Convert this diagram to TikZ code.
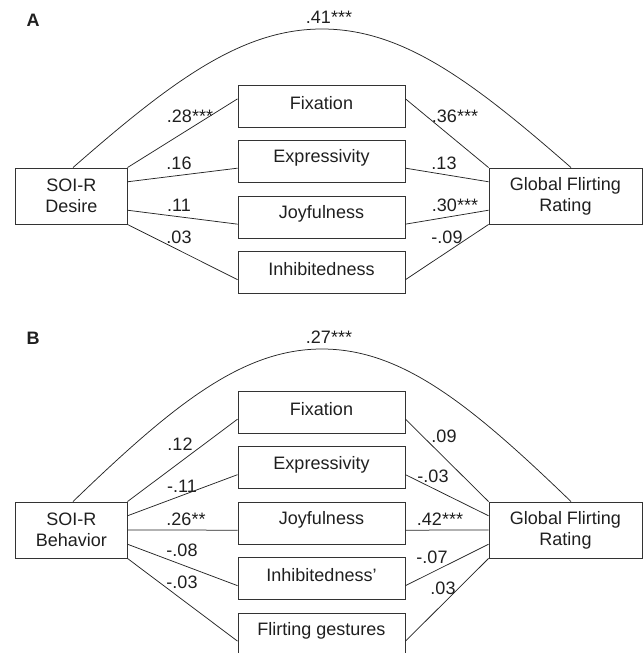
\documentclass[tikz,border=0pt]{standalone}
\usepackage{fontspec}
\setmainfont{Liberation Sans}
\usetikzlibrary{calc}
\newcommand\mainfs{\fontsize{18}{21}\selectfont}
\newcommand\upt[1]{\raisebox{3pt}[\height][\depth]{#1}}
\tikzset{
  boxline/.style={draw=black!80, line width=0.9pt, text=black!88},
  medbox/.style={boxline, minimum width=167pt, minimum height=42pt, inner sep=0pt, font=\mainfs},
  endbox/.style={boxline, minimum height=56pt, inner sep=0pt, align=center, font=\mainfs},
  conn/.style={draw=black!85, line width=0.75pt},
  coef/.style={font=\mainfs, inner sep=0pt, text=black!88},
  panel/.style={font=\bfseries\fontsize{18}{21}\selectfont, inner sep=0pt, text=black!88}
}
\begin{document}
\begin{tikzpicture}[x=1pt,y=-1pt]
\useasboundingbox (0,0) rectangle (643,653);

% ---------------- Panel A ----------------
\node[panel] (labA) at (33,20) {A};
\node[endbox, minimum width=111.5pt] (soiA) at (71.3,196) {SOI-R\\Desire};
\node[endbox, minimum width=153pt] (gfrA) at (565.5,196) {Global Flirting\\Rating};
\node[medbox] (fixA) at (321.5,106) {\upt{Fixation}};
\node[medbox] (expA) at (321.5,161) {\upt{Expressivity}};
\node[medbox] (joyA) at (321.5,217) {\upt{Joyfulness}};
\node[medbox] (inhA) at (321.5,272.5) {\upt{Inhibitedness}};

\coordinate (arcAl) at ($(soiA.north)+(1.7,0)$);
\coordinate (arcAr) at ($(gfrA.north)+(5.5,0)$);
\coordinate (arcAtop) at (322,29);
\draw[conn] (arcAl) .. controls (173,80) and (242,29) .. (arcAtop)
                    .. controls (402,29) and (471,80) .. (arcAr);

\draw[conn] (soiA.north east) -- ($(fixA.north west)!0.333!(fixA.south west)$);
\draw[conn] ($(soiA.north east)!0.25!(soiA.south east)$) -- ($(expA.north west)!0.667!(expA.south west)$);
\draw[conn] ($(soiA.north east)!0.75!(soiA.south east)$) -- ($(joyA.north west)!0.667!(joyA.south west)$);
\draw[conn] (soiA.south east) -- ($(inhA.north west)!0.667!(inhA.south west)$);

\draw[conn] ($(fixA.north east)!0.333!(fixA.south east)$) -- (gfrA.north west);
\draw[conn] ($(expA.north east)!0.667!(expA.south east)$) -- ($(gfrA.north west)!0.25!(gfrA.south west)$);
\draw[conn] ($(joyA.north east)!0.667!(joyA.south east)$) -- ($(gfrA.north west)!0.75!(gfrA.south west)$);
\draw[conn] ($(inhA.north east)!0.667!(inhA.south east)$) -- (gfrA.south west);

\node[coef] (cA0) at (329,17.5) {.41***};
\node[coef] (cA1) at (190,116) {.28***};
\node[coef] (cA2) at (179,163) {.16};
\node[coef] (cA3) at (179,205) {.11};
\node[coef] (cA4) at (179,237) {.03};
\node[coef] (cA5) at (455,116) {.36***};
\node[coef] (cA6) at (444,163) {.13};
\node[coef] (cA7) at (455,205) {.30***};
\node[coef] (cA8) at (447,237) {-.09};

% ---------------- Panel B ----------------
\node[panel] (labB) at (33,338) {B};
\node[endbox, minimum width=111.5pt] (soiB) at (71.3,530) {SOI-R\\Behavior};
\node[endbox, minimum width=153pt] (gfrB) at (565.5,530) {Global Flirting\\Rating};
\node[medbox] (fixB) at (321.5,412) {\upt{Fixation}};
\node[medbox] (expB) at (321.5,467.5) {\upt{Expressivity}};
\node[medbox] (joyB) at (321.5,523) {\upt{Joyfulness}};
\node[medbox] (inhB) at (321.5,578.5) {\upt{Inhibitedness'}};
\node[medbox] (flgB) at (321.5,634) {\upt{Flirting gestures}};

\coordinate (arcBl) at ($(soiB.north)+(1.7,0)$);
\coordinate (arcBr) at ($(gfrB.north)+(5.5,0)$);
\coordinate (arcBtop) at (322,349);
\draw[conn] (arcBl) .. controls (173,405) and (242,349) .. (arcBtop)
                    .. controls (402,349) and (471,405) .. (arcBr);

\draw[conn] (soiB.north east) -- ($(fixB.north west)!0.667!(fixB.south west)$);
\draw[conn] ($(soiB.north east)!0.25!(soiB.south east)$) -- ($(expB.north west)!0.667!(expB.south west)$);
\draw[conn] ($(soiB.north east)!0.5!(soiB.south east)$) -- ($(joyB.north west)!0.667!(joyB.south west)$);
\draw[conn] ($(soiB.north east)!0.75!(soiB.south east)$) -- ($(inhB.north west)!0.667!(inhB.south west)$);
\draw[conn] (soiB.south east) -- ($(flgB.north west)!0.667!(flgB.south west)$);

\draw[conn] ($(fixB.north east)!0.667!(fixB.south east)$) -- (gfrB.north west);
\draw[conn] ($(expB.north east)!0.667!(expB.south east)$) -- ($(gfrB.north west)!0.25!(gfrB.south west)$);
\draw[conn] ($(joyB.north east)!0.667!(joyB.south east)$) -- ($(gfrB.north west)!0.5!(gfrB.south west)$);
\draw[conn] ($(inhB.north east)!0.667!(inhB.south east)$) -- ($(gfrB.north west)!0.75!(gfrB.south west)$);
\draw[conn] ($(flgB.north east)!0.667!(flgB.south east)$) -- (gfrB.south west);

\node[coef] (cB0) at (329,337) {.27***};
\node[coef] (cB1) at (180,444) {.12};
\node[coef] (cB2) at (182,486) {-.11};
\node[coef] (cB3) at (186,519) {.26**};
\node[coef] (cB4) at (182,550) {-.08};
\node[coef] (cB5) at (182,582) {-.03};
\node[coef] (cB6) at (444,436) {.09};
\node[coef] (cB7) at (433,476) {-.03};
\node[coef] (cB8) at (440,519) {.42***};
\node[coef] (cB9) at (432,557) {-.07};
\node[coef] (cB10) at (443,588) {.03};
\end{tikzpicture}
\end{document}
